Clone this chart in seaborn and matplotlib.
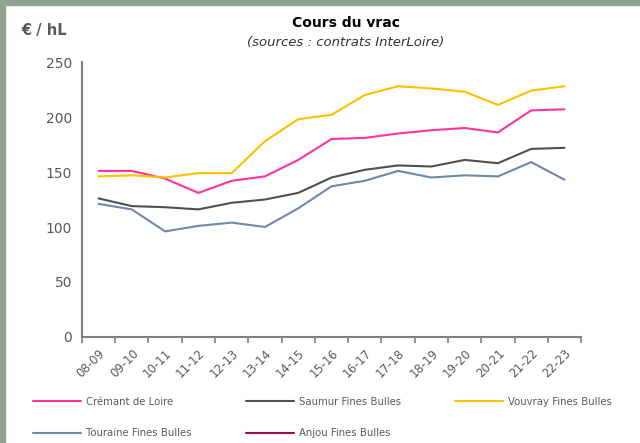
import pandas as pd
import seaborn as sns
import matplotlib.pyplot as plt
from matplotlib.lines import Line2D
from matplotlib.patches import Rectangle

campagnes = ['08-09', '09-10', '10-11', '11-12', '12-13', '13-14', '14-15', '15-16',
             '16-17', '17-18', '18-19', '19-20', '20-21', '21-22', '22-23']

cremant = [151, 151, 144, 131, 142, 146, 161, 180, 181, 185, 188, 190, 186, 206, 207]
saumur = [126, 119, 118, 116, 122, 125, 131, 145, 152, 156, 155, 161, 158, 171, 172]
vouvray = [146, 147, 145, 149, 149, 178, 198, 202, 220, 228, 226, 223, 211, 224, 228]
touraine = [121, 116, 96, 101, 104, 100, 117, 137, 142, 151, 145, 147, 146, 159, 143]

series = {
    'Crémant de Loire': cremant,
    'Saumur Fines Bulles': saumur,
    'Vouvray Fines Bulles': vouvray,
    'Touraine Fines Bulles': touraine,
}
palette = {
    'Crémant de Loire': '#ff3399',
    'Saumur Fines Bulles': '#505050',
    'Vouvray Fines Bulles': '#ffc000',
    'Touraine Fines Bulles': '#6f87a8',
    'Anjou Fines Bulles': '#9e0a4e',
}

rows = []
for name, vals in series.items():
    for c, v in zip(campagnes, vals):
        rows.append({'campagne': c, 'prix': v, 'appellation': name})
df = pd.DataFrame(rows)

sns.set_style('white')
plt.rcParams['font.family'] = ['DejaVu Sans']
grey = '#595959'

fig = plt.figure(figsize=(6.4, 4.43), dpi=100)
ax = fig.add_axes([0.128, 0.2393, 0.78, 0.6207])

sns.lineplot(data=df, x='campagne', y='prix', hue='appellation',
             hue_order=list(series.keys()), palette=palette, linewidth=1.5,
             legend=False, ax=ax)

ax.set_xlim(-0.5, len(campagnes) - 0.5)
ax.set_ylim(0, 250)
ax.set_yticks(range(0, 251, 50))
ax.set_xticks(range(len(campagnes)))
ax.set_xticklabels(campagnes, rotation=45, ha='right', rotation_mode='anchor',
                   fontsize=8.5, color=grey)
ax.set_xticks([i - 0.5 for i in range(len(campagnes) + 1)], minor=True)
ax.tick_params(axis='x', which='major', length=0, pad=7)
ax.tick_params(axis='x', which='minor', length=4, width=1.2, color='#7f7f7f', direction='out')
ax.tick_params(axis='y', length=4, width=1.2, color='#7f7f7f', direction='out',
               labelsize=10, labelcolor=grey, pad=3)
ax.xaxis.set_tick_params(bottom=True, which='minor')
ax.set_xlabel('')
ax.set_ylabel('')
for side in ['top', 'right']:
    ax.spines[side].set_visible(False)
for side in ['left', 'bottom']:
    ax.spines[side].set_color('#7f7f7f')
    ax.spines[side].set_linewidth(1.5)

# titles
fig.text(0.54, 0.948, 'Cours du vrac', ha='center', va='center',
         fontsize=10, fontweight='bold', color='black')
fig.text(0.54, 0.905, '(sources : contrats InterLoire)', ha='center', va='center',
         fontsize=9.5, style='italic', color='#333333')
fig.text(0.034, 0.932, '€ / hL', ha='left', va='center',
         fontsize=10.5, fontweight='bold', color=grey)

# legend (Anjou has no data)
order = ['Crémant de Loire', 'Touraine Fines Bulles', 'Saumur Fines Bulles',
         'Anjou Fines Bulles', 'Vouvray Fines Bulles']
handles = [Line2D([], [], color=palette[n], linewidth=1.5) for n in order]
leg = fig.legend(handles, order, ncol=3, loc='upper left',
                 bbox_to_anchor=(0.052, 0.104), frameon=False, fontsize=7.3,
                 handlelength=4.73, handletextpad=0.5, columnspacing=5.35,
                 labelspacing=2.1, borderaxespad=0, borderpad=0)
for t in leg.get_texts():
    t.set_color(grey)

# border on left and top
W, H = 640, 443
fig.add_artist(Rectangle((0, 0), 5 / W, 1, transform=fig.transFigure,
                         color='#8fa393', zorder=10))
fig.add_artist(Rectangle((0, 1 - 5 / H), 1, 5 / H, transform=fig.transFigure,
                         color='#8fa393', zorder=10))

fig.savefig('out.png', dpi=100)
